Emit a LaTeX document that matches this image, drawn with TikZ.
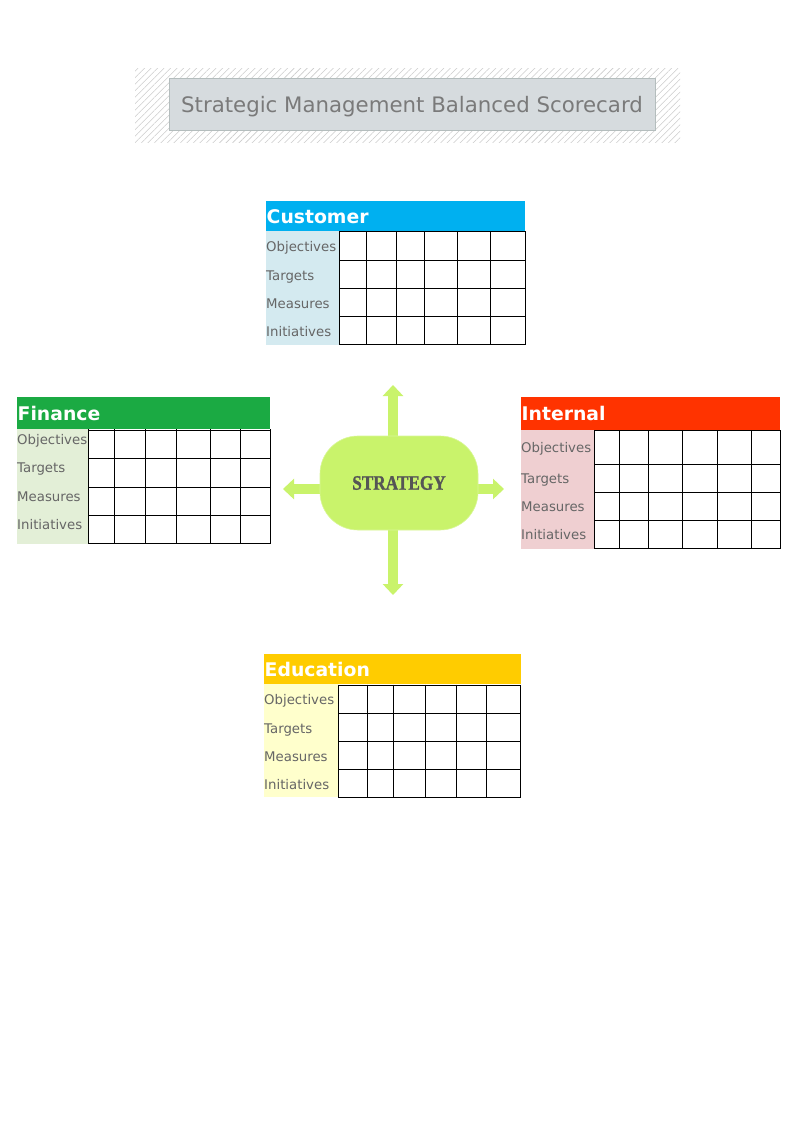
\documentclass[tikz,border=0pt]{standalone}
\usepackage{fontspec}
\setmainfont{DejaVu Sans}
\newfontfamily\stratfont{Liberation Serif}[BoldFeatures={FakeBold=1.2}]
\usetikzlibrary{arrows.meta,patterns.meta}
\definecolor{custhead}{HTML}{00B0F0}
\definecolor{custbg}{HTML}{D4EAF0}
\definecolor{finhead}{HTML}{1BAA43}
\definecolor{finbg}{HTML}{E3EFD7}
\definecolor{inthead}{HTML}{FF3300}
\definecolor{intbg}{HTML}{EFCFD1}
\definecolor{eduhead}{HTML}{FFCC00}
\definecolor{edubg}{HTML}{FFFFCC}
\definecolor{labgray}{HTML}{666666}
\definecolor{stratgreen}{HTML}{C9F36B}
\definecolor{strattext}{HTML}{555555}
\definecolor{titlefill}{HTML}{D6DBDE}
\definecolor{titleline}{HTML}{B4BDBD}
\definecolor{titletext}{HTML}{7A7A7A}
\definecolor{hatch}{HTML}{CCCCCC}
\tikzset{
  head/.style={anchor=north west, inner xsep=0.5pt, inner ysep=0pt, align=left,
    text=white, font=\fontsize{18.8}{20}\selectfont\bfseries},
  lab/.style={anchor=base west, inner sep=0pt, text=labgray,
    font=\fontsize{13.3}{15}\selectfont},
  gridline/.style={draw=black, line width=0.9pt},
  stratarrow/.style={draw=stratgreen, line width=10pt,
    -{Triangle[width=20pt,length=11pt]}},
}
\begin{document}
\begin{tikzpicture}[x=1pt,y=-1pt]
\useasboundingbox (0,0) rectangle (800,1130);
\fill[white] (0,0) rectangle (800,1130);

% ---------- title ----------
\fill[pattern={Lines[angle=45,distance=4.6pt,line width=0.55pt]}, pattern color=hatch]
  (135,68) rectangle (680,142);
\node[draw=titleline, fill=titlefill, line width=0.8pt, minimum width=486pt,
  minimum height=52pt, inner sep=0pt] (titlebox) at (412,104) {};
\node[anchor=base, inner sep=0pt, text=titletext,
  font=\fontsize{21.3}{24}\selectfont] (title) at (412,112.5)
  {Strategic Management Balanced Scorecard};

% ---------- Customer ----------
\fill[custbg] (266,231) rectangle (339,345);
\node[head, fill=custhead, text width=258pt, minimum height=30pt] (cust) at (266,201) {Customer};
\foreach \x in {339,366,396,424,457,490,525} \draw[gridline] (\x,231) -- (\x,344.5);
\foreach \y in {231.5,260,288,316,344} \draw[gridline] (339,\y) -- (525,\y);
\node[lab] (custobj) at (266,251) {Objectives};
\node[lab] (custtar) at (266,280) {Targets};
\node[lab] (custmea) at (266,308) {Measures};
\node[lab] (custini) at (266,336) {Initiatives};

% ---------- Finance ----------
\fill[finbg] (17,429) rectangle (88,544);
\node[head, fill=finhead, text width=252pt, minimum height=32pt] (fin) at (17,397) {Finance};
\foreach \x in {88,114,145,176,210,240,270} \draw[gridline] (\x,429) -- (\x,543.5);
\foreach \y in {430,458,487,515,543} \draw[gridline] (88,\y) -- (270,\y);
\node[lab] (finobj) at (17,444) {Objectives};
\node[lab] (fintar) at (17,472) {Targets};
\node[lab] (finmea) at (17,501) {Measures};
\node[lab] (finini) at (17,529) {Initiatives};

% ---------- Internal ----------
\fill[intbg] (521,430) rectangle (594,549);
\node[head, fill=inthead, text width=258pt, minimum height=33pt] (int) at (521,397) {Internal};
\foreach \x in {594,619,648,682,717,751,780} \draw[gridline] (\x,430) -- (\x,548.5);
\foreach \y in {430.5,464,492,520,548} \draw[gridline] (594,\y) -- (780,\y);
\node[lab] (intobj) at (521,452) {Objectives};
\node[lab] (inttar) at (521,483) {Targets};
\node[lab] (intmea) at (521,511) {Measures};
\node[lab] (intini) at (521,539) {Initiatives};

% ---------- Education ----------
\fill[edubg] (264,684) rectangle (338,797);
\node[head, fill=eduhead, text width=256pt, minimum height=30pt] (edu) at (264,654) {Education};
\foreach \x in {338,367,393,425,456,486,520} \draw[gridline] (\x,684.5) -- (\x,797.5);
\foreach \y in {685,713,741,769,797} \draw[gridline] (338,\y) -- (520,\y);
\node[lab] (eduobj) at (264,704) {Objectives};
\node[lab] (edutar) at (264,733) {Targets};
\node[lab] (edumea) at (264,761) {Measures};
\node[lab] (eduini) at (264,789) {Initiatives};

% ---------- Strategy ----------
\coordinate (hub) at (393,489);
\coordinate (tipup) at (393,385);
\coordinate (tipdown) at (393,595);
\coordinate (tipleft) at (283,489);
\coordinate (tipright) at (504,489);
\draw[stratarrow] (hub) -- (tipup);
\draw[stratarrow] (hub) -- (tipdown);
\draw[stratarrow] (hub) -- (tipleft);
\draw[stratarrow] (hub) -- (tipright);
\node[fill=stratgreen, draw=stratgreen!70!white, line width=0.6pt, rounded corners=38pt,
  minimum width=158pt, minimum height=94pt, inner sep=0pt, text=strattext,
  font=\stratfont\fontsize{20.5}{22}\selectfont\bfseries] (strat) at (399,483)
  {\scalebox{0.84}[1]{STRATEGY}};
\end{tikzpicture}
\end{document}
